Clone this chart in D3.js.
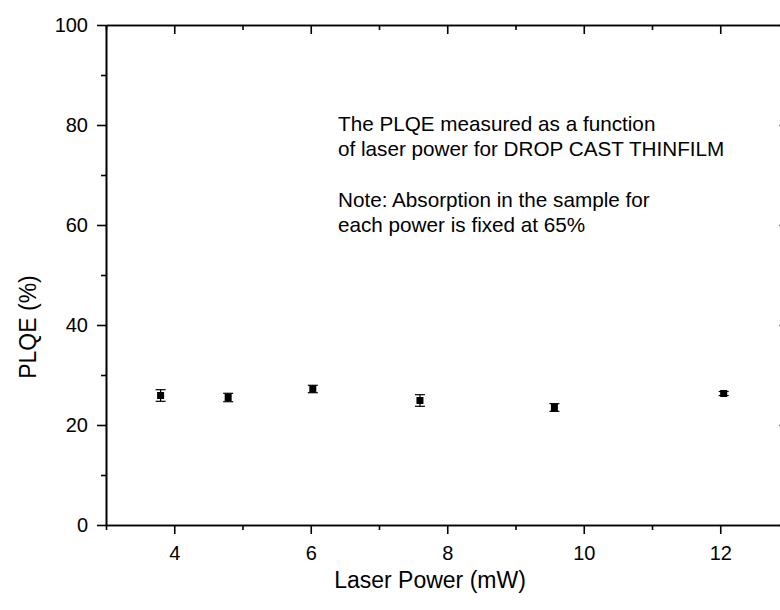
<!DOCTYPE html>
<html>
<head>
<meta charset="utf-8">
<script src="https://cdn.jsdelivr.net/npm/d3@7"></script>
<style>
  html, body { margin: 0; padding: 0; background: #fff; }
  svg { display: block; overflow: hidden; }
  text { font-family: "Liberation Sans", Arial, sans-serif; fill: #000; }
</style>
</head>
<body>
<svg id="chart" width="780" height="610"></svg>
<script>
// ---- data ----
const laserPower = [3.8, 4.79, 6.03, 7.6, 9.57, 12.05];
const plqe       = [25.9, 25.5, 27.2, 24.9, 23.5, 26.3];
const plqeErr    = [1.16, 0.84, 0.74, 1.16, 0.77, 0.4];
const xMajorTicks = [4, 6, 8, 10, 12];
const xMinorTicks = [3, 5, 7, 9, 11, 13];
const yMajorTicks = [0, 20, 40, 60, 80, 100];
const yMinorTicks = [10, 30, 50, 70, 90];
const xTitle = "Laser Power (mW)";
const yTitle = "PLQE (%)";
const noteLines = [
  "The PLQE measured as a function",
  "of laser power for DROP CAST THINFILM",
  "",
  "Note: Absorption in the sample for",
  "each power is fixed at 65%"
];

(function () {
// ---- layout ----
const svg = d3.select("#chart");
const pL = 106, pR = 788.5, pT = 25, pB = 525;
const x = d3.scaleLinear().domain([3, 13]).range([pL, pR]);
const y = d3.scaleLinear().domain([0, 100]).range([pB, pT]);

const fmt = d3.format("d");
const tickFont = "20px";
const fam = "'Liberation Sans', Arial, sans-serif";

function styleAxis(g) {
  g.attr("font-family", null).attr("font-size", null);
  g.selectAll("path.domain").attr("stroke", "#000").attr("stroke-width", 1.6);
  g.selectAll(".tick line").attr("stroke", "#000").attr("stroke-width", 1.6);
  g.selectAll(".tick text").style("font-size", tickFont).attr("fill", "#000")
    .style("font-family", fam);
}

// bottom axis
svg.append("g").attr("transform", `translate(0,${pB})`)
  .call(d3.axisBottom(x).tickValues(xMajorTicks).tickFormat(fmt).tickSize(9).tickSizeOuter(0).tickPadding(12))
  .call(styleAxis);
svg.append("g").attr("transform", `translate(0,${pB})`)
  .call(d3.axisBottom(x).tickValues(xMinorTicks).tickFormat("").tickSize(5).tickSizeOuter(0))
  .call(styleAxis);

// top axis (inward ticks)
svg.append("g").attr("transform", `translate(0,${pT})`)
  .call(d3.axisTop(x).tickValues(xMajorTicks).tickFormat("").tickSize(-9).tickSizeOuter(0))
  .call(styleAxis);
svg.append("g").attr("transform", `translate(0,${pT})`)
  .call(d3.axisTop(x).tickValues(xMinorTicks).tickFormat("").tickSize(-5).tickSizeOuter(0))
  .call(styleAxis);

// left axis
svg.append("g").attr("transform", `translate(${pL},0)`)
  .call(d3.axisLeft(y).tickValues(yMajorTicks).tickFormat(fmt).tickSize(9).tickSizeOuter(0).tickPadding(9))
  .call(styleAxis);
svg.append("g").attr("transform", `translate(${pL},0)`)
  .call(d3.axisLeft(y).tickValues(yMinorTicks).tickFormat("").tickSize(5).tickSizeOuter(0))
  .call(styleAxis);

// right axis (inward ticks)
svg.append("g").attr("transform", `translate(${pR},0)`)
  .call(d3.axisRight(y).tickValues(yMajorTicks).tickFormat("").tickSize(-9).tickSizeOuter(0))
  .call(styleAxis);
svg.append("g").attr("transform", `translate(${pR},0)`)
  .call(d3.axisRight(y).tickValues(yMinorTicks).tickFormat("").tickSize(-5).tickSizeOuter(0))
  .call(styleAxis);

// ---- data marks ----
const pts = laserPower.map((v, i) => ({ x: v, y: plqe[i], e: plqeErr[i] }));
const marks = svg.append("g");
const capW = 5;
pts.forEach(d => {
  const cx = x(d.x), y1 = y(d.y + d.e), y0 = y(d.y - d.e);
  marks.append("line").attr("x1", cx).attr("x2", cx).attr("y1", y1).attr("y2", y0)
    .attr("stroke", "#000").attr("stroke-width", 1.2);
  marks.append("line").attr("x1", cx - capW).attr("x2", cx + capW).attr("y1", y1).attr("y2", y1)
    .attr("stroke", "#000").attr("stroke-width", 1.2);
  marks.append("line").attr("x1", cx - capW).attr("x2", cx + capW).attr("y1", y0).attr("y2", y0)
    .attr("stroke", "#000").attr("stroke-width", 1.2);
});
marks.selectAll("rect.pt").data(pts).join("rect").attr("class", "pt")
  .attr("x", d => x(d.x) - 3.5).attr("y", d => y(d.y) - 3.5)
  .attr("width", 7).attr("height", 7).attr("fill", "#000");

// ---- titles ----
svg.append("text").attr("x", 430).attr("y", 588).attr("text-anchor", "middle")
  .style("font-size", "23px").text(xTitle);
svg.append("text").attr("transform", "translate(36,327) rotate(-90)").attr("text-anchor", "middle")
  .style("font-size", "23px").text(yTitle);

// ---- annotation ----
const note = svg.append("text").style("font-size", "20.7px");
noteLines.forEach((t, i) => {
  note.append("tspan").attr("x", 338).attr("y", 131 + i * 25.3).text(t);
});
})();
</script>
</body>
</html>
